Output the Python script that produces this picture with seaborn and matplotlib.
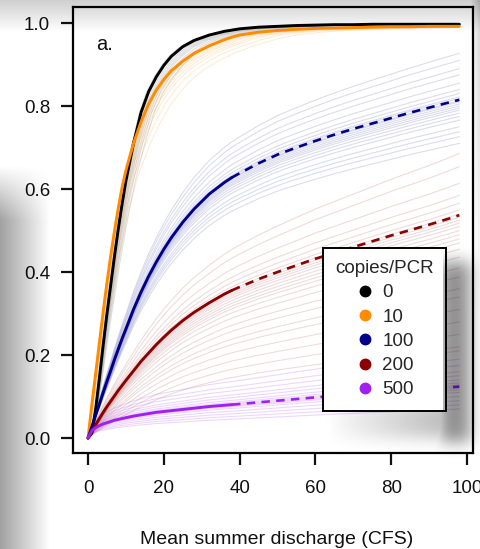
import numpy as np
import pandas as pd
import matplotlib
matplotlib.use("Agg")
import matplotlib.pyplot as plt
from matplotlib.lines import Line2D
import seaborn as sns

# Mean summer discharge (CFS) at which the fitted curves are tabulated
discharge = [0, 1, 2, 3, 4, 5, 6, 7, 8, 9, 10, 12, 14, 16, 18, 20, 22, 25, 28,
             32, 36, 38, 40, 45, 50, 55, 60, 65, 70, 75, 80, 85, 90, 95, 98]

# Posterior-mean detection probability for each copies/PCR level
p_0 = [0, 0.012, 0.07, 0.145, 0.225, 0.30, 0.37, 0.44, 0.505, 0.565, 0.62, 0.71,
       0.785, 0.835, 0.87, 0.898, 0.92, 0.943, 0.958, 0.971, 0.98, 0.983, 0.986,
       0.99, 0.992, 0.994, 0.995, 0.996, 0.996, 0.997, 0.997, 0.997, 0.997, 0.997, 0.997]
p_10 = [0, 0.08, 0.155, 0.23, 0.305, 0.375, 0.44, 0.50, 0.555, 0.605, 0.645, 0.71,
        0.762, 0.805, 0.838, 0.864, 0.885, 0.908, 0.927, 0.945, 0.96, 0.966, 0.971,
        0.978, 0.982, 0.985, 0.987, 0.988, 0.989, 0.99, 0.991, 0.991, 0.992, 0.992, 0.992]
p_100 = [0, 0.027, 0.055, 0.082, 0.11, 0.137, 0.163, 0.19, 0.215, 0.24, 0.263, 0.31,
         0.352, 0.39, 0.424, 0.455, 0.483, 0.52, 0.552, 0.588, 0.616, 0.628, 0.638,
         0.662, 0.683, 0.70, 0.716, 0.731, 0.745, 0.758, 0.771, 0.784, 0.796, 0.808, 0.815]
p_200 = [0, 0.017, 0.032, 0.047, 0.062, 0.076, 0.089, 0.102, 0.115, 0.127, 0.139, 0.162,
         0.185, 0.205, 0.225, 0.243, 0.26, 0.283, 0.303, 0.326, 0.347, 0.356, 0.364,
         0.383, 0.40, 0.416, 0.432, 0.446, 0.46, 0.474, 0.488, 0.501, 0.514, 0.528, 0.537]
p_500 = [0, 0.018, 0.025, 0.030, 0.034, 0.037, 0.04, 0.043, 0.045, 0.047, 0.049, 0.053,
         0.056, 0.059, 0.062, 0.064, 0.066, 0.069, 0.072, 0.076, 0.079, 0.0805, 0.082,
         0.086, 0.09, 0.094, 0.098, 0.102, 0.105, 0.109, 0.112, 0.116, 0.119, 0.122, 0.124]

# Posterior draws: discharge where each draw reaches p = 0.5 (0 and 10 copies)
x50_0 = [7.7, 7.9, 8.1, 8.3, 8.5, 8.7, 8.9, 9.2, 9.5, 9.9]
x50_10 = [6.8, 7.0, 7.2, 7.4, 7.6, 7.8, 8.1, 8.4, 8.9, 9.6]
# Posterior draws: detection probability reached at 98 CFS (100, 200, 500 copies)
end_100 = [0.927, 0.91, 0.89, 0.875, 0.855, 0.84, 0.83, 0.822, 0.818, 0.813, 0.81,
           0.805, 0.80, 0.795, 0.79, 0.783, 0.775, 0.766, 0.75, 0.738, 0.726, 0.71]
end_200 = [0.686, 0.654, 0.614, 0.585, 0.566, 0.55, 0.54, 0.532, 0.525, 0.518, 0.51,
           0.50, 0.49, 0.48, 0.47, 0.455, 0.436, 0.41, 0.388, 0.36, 0.34, 0.31, 0.28,
           0.25, 0.22]
end_500 = [0.21, 0.19, 0.175, 0.16, 0.15, 0.14, 0.133, 0.128, 0.124, 0.12, 0.116,
           0.11, 0.10, 0.09, 0.08, 0.07]

copies = ["0", "10", "100", "200", "500"]
colors = ["#000000", "#FF8C00", "#00008B", "#8B0000", "#A020F0"]
x_observed_max = 38

sns.set_theme(style="ticks")
plt.rcParams["font.family"] = ["Liberation Sans", "DejaVu Sans"]

W, H = 480, 549
fig = plt.figure(figsize=(W / 100, H / 100), dpi=100)
ax = fig.add_axes([73 / W, 1 - 453 / H, 400 / W, 446 / H])

xs = np.asarray(discharge, dtype=float)


def stretched_draws(curve, x50_list, x50_mean):
    rows = []
    ys = np.asarray(curve, dtype=float)
    for i, x50 in enumerate(x50_list):
        s = x50 / x50_mean
        xx = xs * s
        keep = xx <= 98
        xx_k = list(xx[keep]) + [98.0]
        yy_k = list(ys[keep]) + [float(np.interp(98.0 / s, xs, ys))]
        rows += [(i, a, b) for a, b in zip(xx_k, yy_k)]
    return pd.DataFrame(rows, columns=["draw", "discharge", "p"])


def scaled_draws(curve, end_list):
    rows = []
    ys = np.asarray(curve, dtype=float)
    for i, e in enumerate(end_list):
        yy = ys * e / ys[-1]
        rows += [(i, a, b) for a, b in zip(xs, yy)]
    return pd.DataFrame(rows, columns=["draw", "discharge", "p"])


draw_sets = [
    (stretched_draws(p_0, x50_0, float(np.interp(0.5, p_0, discharge))), colors[0], 0.12),
    (stretched_draws(p_10, x50_10, float(np.interp(0.5, p_10, discharge))), colors[1], 0.16),
    (scaled_draws(p_100, end_100), colors[2], 0.14),
    (scaled_draws(p_200, end_200), colors[3], 0.14),
    (scaled_draws(p_500, end_500), colors[4], 0.18),
]
for df, c, a in draw_sets:
    sns.lineplot(data=df, x="discharge", y="p", units="draw", estimator=None,
                 color=c, alpha=a, lw=0.8, ax=ax, legend=False)

# Posterior-mean curves: solid over the observed range, dashed beyond it
k = discharge.index(x_observed_max)
for ys, c, label in zip([p_0, p_10, p_100, p_200, p_500], colors, copies):
    if label in ("0", "10"):
        sns.lineplot(x=discharge, y=ys, color=c, lw=2.1, ax=ax)
        continue
    sns.lineplot(x=discharge[:k + 1], y=ys[:k + 1], color=c, lw=2.1, ax=ax)
    sns.lineplot(x=discharge[k:], y=ys[k:], color=c, lw=1.9, ax=ax)
    ax.lines[-1].set_dashes([3.2, 2.4])

ax.set_xlim(-3.97, 101.6)
ax.set_ylim(-0.036, 1.0386)
ax.set_xticks([0, 20, 40, 60, 80, 100])
ax.set_yticks([0.0, 0.2, 0.4, 0.6, 0.8, 1.0])
ax.set_yticklabels(["0.0", "0.2", "0.4", "0.6", "0.8", "1.0"])
ax.set_ylabel("")
ax.set_xlabel("Mean summer discharge (CFS)", fontsize=14, color="#111111")
ax.xaxis.set_label_coords(0.51, -0.174)
ax.tick_params(axis="both", direction="out", length=8.5, width=1.6,
               labelsize=13.5, colors="#111111", labelcolor="#111111")
ax.tick_params(axis="x", pad=11)
ax.tick_params(axis="y", pad=8)
for sp in ax.spines.values():
    sp.set_visible(True)
    sp.set_linewidth(1.6)
    sp.set_color("black")

ax.text(0.058, 0.904, "a.", transform=ax.transAxes, fontsize=14.5,
        va="baseline", ha="left", color="#111111")

handles = [Line2D([], [], marker="o", linestyle="none", markersize=7.5,
                  markerfacecolor=c, markeredgecolor=c) for c in colors]
leg = ax.legend(handles, copies, title="copies/PCR", loc="upper left",
                bbox_to_anchor=(0.625, 0.4596), borderaxespad=0,
                fontsize=13.5, title_fontsize=13.5, frameon=True, fancybox=False,
                edgecolor="black", framealpha=1, borderpad=0.65, labelspacing=0.38,
                handlelength=1.0, handletextpad=0.45)
leg.get_frame().set_linewidth(1.4)

# Soft grey shading at the page edges and behind the key
rows = np.arange(H)[:, None].astype(float)
cols = np.arange(W)[None, :].astype(float)
shade = np.zeros((H, W))
shade += np.clip(0.19 - 0.006 * rows, 0, None) * np.ones_like(cols)
left_ramp = np.clip((rows - 165) / 55, 0, 1)
shade += 0.37 * np.clip(1 - cols / 50, 0, 1) * left_ramp
shade += 0.18 * np.clip((cols - 470) / 10, 0, 1) * np.clip(1 - rows / 320, 0, 1)


def blur1d(a, sigma, axis):
    r = int(3 * sigma)
    kern = np.exp(-0.5 * (np.arange(-r, r + 1) / sigma) ** 2)
    kern /= kern.sum()
    return np.apply_along_axis(lambda v: np.convolve(v, kern, mode="same"), axis, a)


side = np.zeros((H, W))
side[262:442, 440:470] = 1.0
side = blur1d(blur1d(side, 8, 0), 8, 1)
under = np.zeros((H, W))
under[402:438, 330:470] = 1.0
under = blur1d(blur1d(under, 8, 0), 8, 1) * np.clip((cols - 320) / 150, 0, 1)
key_shadow = np.maximum(0.45 * side, 0.32 * under)
key_shadow[248:410, 323:443] = 0.0
shade += key_shadow
shade = np.clip(shade, 0, 0.6)

overlay = np.zeros((H, W, 4))
overlay[..., 3] = shade
ov_ax = fig.add_axes([0, 0, 1, 1], zorder=10)
ov_ax.imshow(overlay, aspect="auto", interpolation="nearest")
ov_ax.set_axis_off()

fig.savefig("out.png", dpi=100)
